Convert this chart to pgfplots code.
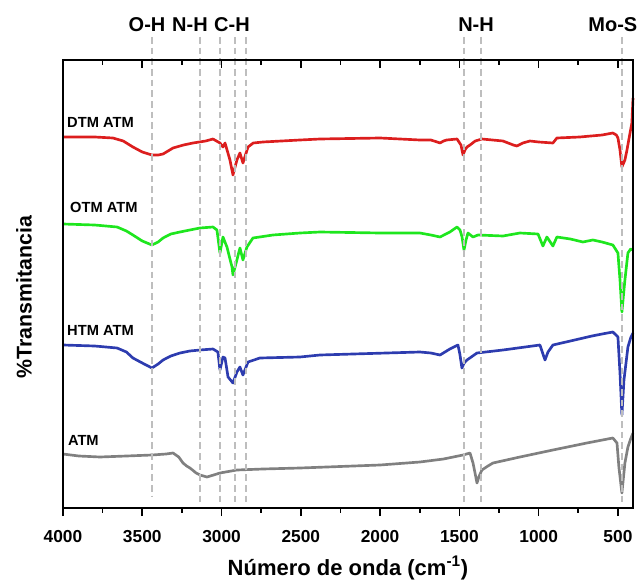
\documentclass[border=0pt]{standalone}
\usepackage{pgfplots}
\pgfplotsset{compat=1.18}
\usepackage{fontspec}
\setmainfont{Liberation Sans}
\definecolor{cred}{RGB}{220,30,30}
\definecolor{cgreen}{RGB}{30,230,30}
\definecolor{cblue}{RGB}{45,60,175}
\definecolor{cgray}{RGB}{128,128,128}
\definecolor{cdash}{RGB}{190,190,190}
\begin{document}
\begin{tikzpicture}
\begin{axis}[
  name=main,
  scale only axis, width=427.5pt, height=336pt,
  xmin=405, xmax=4000, ymin=74, ymax=522,
  x dir=reverse,
  clip=false,
  axis line style={line width=1.2pt},
  xtick={4000,3500,3000,2500,2000,1500,1000,500},
  minor x tick num=1,
  xtick pos=bottom, tick align=outside,
  major tick length=6pt, minor tick length=3.5pt,
  every tick/.style={black, line width=1.2pt},
  ytick=\empty,
  /pgf/number format/assume math mode=true,
  /pgf/number format/set thousands separator={},
  xticklabel style={font=\bfseries\fontsize{13}{15}\selectfont, yshift=-7.5pt},
  xlabel={\bfseries Número de onda (cm\textsuperscript{-1})},
  xlabel style={font=\fontsize{16.5}{18}\selectfont, at={(axis description cs:0.5,0)}, anchor=center, yshift=-45pt},
  ylabel={\bfseries \%Transmitancia},
  ylabel style={font=\fontsize{16}{18}\selectfont, at={(axis description cs:-0.0684,0.471)}, anchor=center},
  every axis plot/.append style={line width=2pt, line join=round},
]
% DTM ATM
\addplot[cred] coordinates {
(4000,445) (3800,445) (3685,444) (3620,441) (3559,435) (3500,430) (3439,427) (3400,427) (3369,428)
(3306,434) (3240,437) (3180,439) (3100,441) (3054,443)
(3010,439) (2991,435) (2978,439) (2947,422) (2928,407) (2903,422) (2884,429) (2865,419)
(2833,435) (2800,439) (2739,440) (2505,442) (2379,443) (2000,444) (1749,442) (1680,442) (1640,440) (1622,439)
(1600,441) (1580,442) (1515,443) (1490,437) (1477,427) (1465,432) (1452,435) (1433,437) (1400,441) (1358,443) (1225,441) (1160,437) (1137,436)
(1100,439) (1055,441) (1000,440) (910,439) (885,444) (740,445) (600,447) (532,449) (510,447) (500,444) (487,432)
(475,415) (456,422) (443,432) (425,448) (412,459) (405,484)
};
% OTM ATM
\addplot[cgreen] coordinates {
(4000,358) (3800,357) (3659,355) (3600,351) (3559,347) (3500,341) (3439,337) (3400,340) (3369,344)
(3320,348) (3262,350) (3200,352) (3136,354) (3054,355)
(3029,352) (3010,329) (2991,345) (2966,335) (2934,315) (2928,307) (2903,322) (2884,334)
(2865,322) (2840,335) (2802,344) (2676,347) (2505,349) (2379,350) (2000,349) (1749,349)
(1680,347) (1622,345) (1560,350) (1515,355) (1496,352) (1483,345) (1471,332) (1458,342) (1446,349) (1414,345) (1383,347) (1225,346)
(1118,349) (1004,348) (973,336) (948,345) (910,336) (885,345) (800,343) (721,340) (658,342) (600,340)
(532,337) (500,329) (487,302) (475,270) (456,302) (437,329) (420,333) (405,332)
};
% HTM ATM
\addplot[cblue] coordinates {
(4000,237) (3800,236) (3659,234) (3600,230) (3559,224) (3500,219) (3439,214) (3400,218) (3369,222)
(3320,226) (3262,229) (3200,231) (3136,232) (3054,233)
(3023,230) (3010,212) (2991,225) (2978,224) (2959,205) (2928,199) (2903,210) (2884,215)
(2865,207) (2833,220) (2758,224) (2505,225) (2379,227) (1749,230) (1680,229) (1622,227) (1560,233) (1509,237)
(1497,228) (1484,214) (1470,219) (1452,222) (1389,229) (1225,232) (992,237) (960,222) (941,230) (910,237)
(800,241) (664,246) (600,248) (532,250) (500,245) (487,209) (475,167) (462,202) (437,235) (420,244) (405,249)
};
% ATM
\addplot[cgray] coordinates {
(4000,128) (3900,126) (3767,125) (3600,126) (3439,127) (3350,128) (3306,129) (3270,125) (3243,119) (3220,116) (3199,114) (3160,109) (3136,107) (3092,105)
(3050,107) (3010,109) (2903,112) (2739,113) (2505,114) (2000,117) (1749,120) (1600,123) (1477,127) (1433,129)
(1414,119) (1400,108) (1389,99) (1375,106) (1358,112) (1320,116) (1288,119) (1118,125) (910,132) (696,139) (532,144)
(506,139) (494,115) (475,89) (456,119) (437,135) (420,143) (405,149)
};
% dashed guide lines
\addplot[cdash, line width=2pt, dash pattern=on 5pt off 3pt] coordinates {(3439,545) (3439,86)};
\addplot[cdash, line width=2pt, dash pattern=on 5pt off 3pt] coordinates {(3136,545) (3136,78)};
\addplot[cdash, line width=2pt, dash pattern=on 5pt off 3pt] coordinates {(3010,545) (3010,78)};
\addplot[cdash, line width=2pt, dash pattern=on 5pt off 3pt] coordinates {(2915,545) (2915,78)};
\addplot[cdash, line width=2pt, dash pattern=on 5pt off 3pt] coordinates {(2846,545) (2846,78)};
\addplot[cdash, line width=2pt, dash pattern=on 5pt off 3pt] coordinates {(1471,545) (1471,78)};
\addplot[cdash, line width=2pt, dash pattern=on 5pt off 3pt] coordinates {(1364,545) (1364,78)};
\addplot[cdash, line width=2pt, dash pattern=on 5pt off 3pt] coordinates {(475,545) (475,78)};
% top labels
\node[font=\bfseries\fontsize{15}{17}\selectfont] at (axis cs:3470,557) {O-H};
\node[font=\bfseries\fontsize{15}{17}\selectfont] at (axis cs:3199,557) {N-H};
\node[font=\bfseries\fontsize{15}{17}\selectfont] at (axis cs:2934,557) {C-H};
\node[font=\bfseries\fontsize{15}{17}\selectfont] at (axis cs:1395,557) {N-H};
\node[font=\bfseries\fontsize{15}{17}\selectfont] at (axis cs:532,557) {Mo-S};
% sample labels
\node[anchor=west, inner sep=0pt, font=\bfseries\fontsize{11}{13}\selectfont] at (axis cs:3975,460) {DTM ATM};
\node[anchor=west, inner sep=0pt, font=\bfseries\fontsize{11}{13}\selectfont] at (axis cs:3956,375) {OTM ATM};
\node[anchor=west, inner sep=0pt, font=\bfseries\fontsize{11}{13}\selectfont] at (axis cs:3975,252) {HTM ATM};
\node[anchor=west, inner sep=0pt, font=\bfseries\fontsize{11}{13}\selectfont] at (axis cs:3970,142) {ATM};
\end{axis}
\begin{axis}[
  scale only axis, width=427.5pt, height=336pt,
  xmin=405, xmax=4000, ymin=74, ymax=522,
  x dir=reverse,
  axis line style={line width=1.2pt},
  xtick={4000,3500,3000,2500,2000,1500,1000,500},
  minor x tick num=1,
  xtick pos=top, tick align=inside,
  major tick length=6pt, minor tick length=3.5pt,
  every tick/.style={black, line width=1.2pt},
  xticklabels={}, ytick=\empty,
]
\end{axis}
\pgfresetboundingbox
\path ([shift={(-47.25pt,-55.5pt)}]main.south west) rectangle ([shift={(3.75pt,45pt)}]main.north east);
\end{tikzpicture}
\end{document}
